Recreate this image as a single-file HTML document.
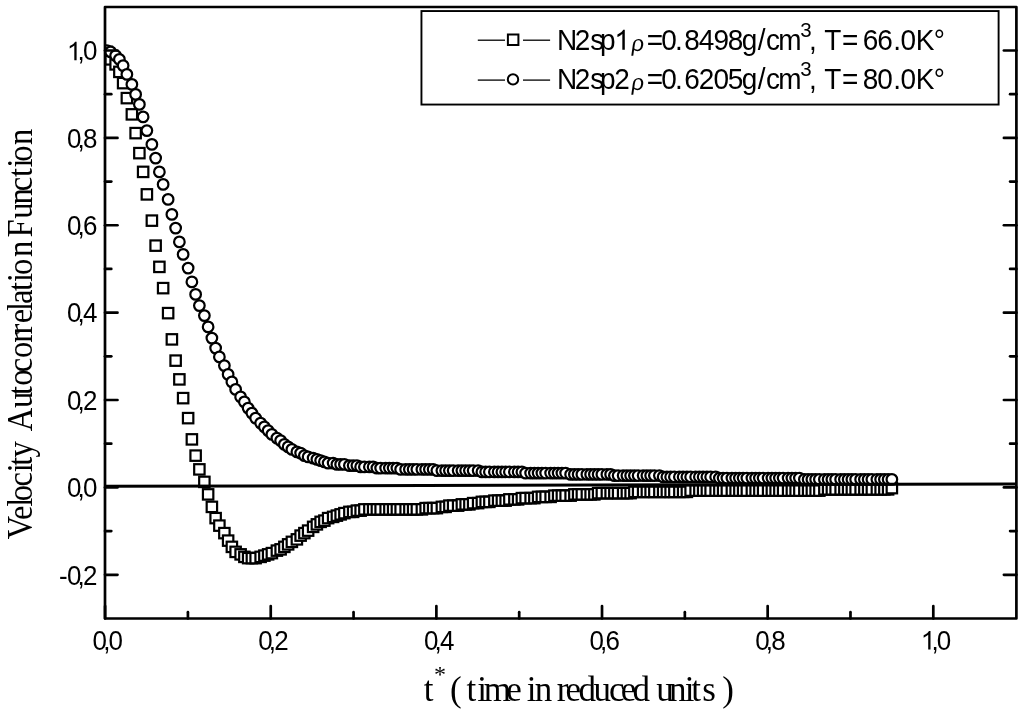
<!DOCTYPE html>
<html><head><meta charset="utf-8"><style>
html,body{margin:0;padding:0;background:#fff;width:1024px;height:714px;overflow:hidden}
svg{display:block}
svg{filter:grayscale(100%)}
</style></head><body>
<svg width="1024" height="714" viewBox="0 0 1024 714">
<rect x="0" y="0" width="1024" height="714" fill="#fff"/>
<defs><clipPath id="pc"><rect x="105.0" y="7.0" width="911.4" height="611.5"/></clipPath><path id="one" d="M0.373,0 L0.373,0.716 L0.315,0.716 C0.29,0.66 0.22,0.6 0.109,0.545 L0.109,0.455 C0.17,0.48 0.245,0.525 0.285,0.565 L0.285,0 Z"/></defs>
<g fill="#fff" stroke="#000" stroke-width="2.2" clip-path="url(#pc)">
<rect x="101.67" y="46.67" width="10.4" height="10.4"/>
<rect x="105.42" y="54.17" width="10.4" height="10.4"/>
<rect x="110.42" y="59.17" width="10.4" height="10.4"/>
<rect x="114.17" y="66.67" width="10.4" height="10.4"/>
<rect x="117.92" y="77.92" width="10.4" height="10.4"/>
<rect x="121.67" y="92.92" width="10.4" height="10.4"/>
<rect x="126.67" y="109.17" width="10.4" height="10.4"/>
<rect x="130.43" y="127.92" width="10.4" height="10.4"/>
<rect x="134.18" y="147.93" width="10.4" height="10.4"/>
<rect x="137.93" y="166.68" width="10.4" height="10.4"/>
<rect x="141.68" y="189.18" width="10.4" height="10.4"/>
<rect x="146.68" y="215.43" width="10.4" height="10.4"/>
<rect x="150.43" y="240.43" width="10.4" height="10.4"/>
<rect x="154.18" y="261.68" width="10.4" height="10.4"/>
<rect x="157.93" y="282.93" width="10.4" height="10.4"/>
<rect x="162.93" y="307.93" width="10.4" height="10.4"/>
<rect x="166.68" y="334.18" width="10.4" height="10.4"/>
<rect x="170.43" y="355.43" width="10.4" height="10.4"/>
<rect x="174.18" y="374.18" width="10.4" height="10.4"/>
<rect x="177.93" y="392.93" width="10.4" height="10.4"/>
<rect x="182.93" y="412.93" width="10.4" height="10.4"/>
<rect x="186.68" y="434.18" width="10.4" height="10.4"/>
<rect x="190.43" y="450.43" width="10.4" height="10.4"/>
<rect x="194.18" y="464.18" width="10.4" height="10.4"/>
<rect x="199.18" y="476.68" width="10.4" height="10.4"/>
<rect x="202.93" y="489.18" width="10.4" height="10.4"/>
<rect x="206.68" y="501.68" width="10.4" height="10.4"/>
<rect x="210.43" y="512.92" width="10.4" height="10.4"/>
<rect x="214.18" y="520.42" width="10.4" height="10.4"/>
<rect x="219.18" y="527.92" width="10.4" height="10.4"/>
<rect x="222.93" y="535.42" width="10.4" height="10.4"/>
<rect x="226.68" y="541.67" width="10.4" height="10.4"/>
<rect x="230.43" y="546.67" width="10.4" height="10.4"/>
<rect x="235.43" y="549.17" width="10.4" height="10.4"/>
<rect x="239.18" y="551.67" width="10.4" height="10.4"/>
<rect x="242.93" y="552.92" width="10.4" height="10.4"/>
<rect x="246.68" y="552.92" width="10.4" height="10.4"/>
<rect x="250.43" y="552.92" width="10.4" height="10.4"/>
<rect x="255.43" y="551.67" width="10.4" height="10.4"/>
<rect x="259.18" y="550.42" width="10.4" height="10.4"/>
<rect x="262.93" y="549.17" width="10.4" height="10.4"/>
<rect x="266.68" y="547.92" width="10.4" height="10.4"/>
<rect x="271.68" y="545.42" width="10.4" height="10.4"/>
<rect x="275.43" y="544.17" width="10.4" height="10.4"/>
<rect x="279.18" y="541.67" width="10.4" height="10.4"/>
<rect x="282.93" y="539.17" width="10.4" height="10.4"/>
<rect x="286.68" y="536.67" width="10.4" height="10.4"/>
<rect x="291.68" y="534.17" width="10.4" height="10.4"/>
<rect x="295.43" y="530.42" width="10.4" height="10.4"/>
<rect x="299.18" y="527.92" width="10.4" height="10.4"/>
<rect x="302.93" y="525.42" width="10.4" height="10.4"/>
<rect x="307.93" y="521.67" width="10.4" height="10.4"/>
<rect x="311.68" y="519.17" width="10.4" height="10.4"/>
<rect x="315.43" y="516.67" width="10.4" height="10.4"/>
<rect x="319.18" y="515.42" width="10.4" height="10.4"/>
<rect x="322.93" y="512.92" width="10.4" height="10.4"/>
<rect x="327.93" y="511.68" width="10.4" height="10.4"/>
<rect x="331.68" y="510.43" width="10.4" height="10.4"/>
<rect x="335.43" y="509.18" width="10.4" height="10.4"/>
<rect x="339.18" y="507.93" width="10.4" height="10.4"/>
<rect x="344.18" y="506.68" width="10.4" height="10.4"/>
<rect x="347.93" y="506.68" width="10.4" height="10.4"/>
<rect x="351.68" y="505.43" width="10.4" height="10.4"/>
<rect x="355.43" y="505.43" width="10.4" height="10.4"/>
<rect x="359.18" y="504.18" width="10.4" height="10.4"/>
<rect x="364.18" y="504.18" width="10.4" height="10.4"/>
<rect x="367.93" y="504.18" width="10.4" height="10.4"/>
<rect x="371.68" y="504.18" width="10.4" height="10.4"/>
<rect x="375.43" y="504.18" width="10.4" height="10.4"/>
<rect x="380.43" y="504.18" width="10.4" height="10.4"/>
<rect x="384.18" y="504.18" width="10.4" height="10.4"/>
<rect x="387.93" y="504.18" width="10.4" height="10.4"/>
<rect x="391.68" y="504.18" width="10.4" height="10.4"/>
<rect x="395.43" y="504.18" width="10.4" height="10.4"/>
<rect x="400.43" y="504.18" width="10.4" height="10.4"/>
<rect x="404.18" y="504.18" width="10.4" height="10.4"/>
<rect x="407.93" y="504.18" width="10.4" height="10.4"/>
<rect x="411.68" y="504.18" width="10.4" height="10.4"/>
<rect x="416.68" y="504.18" width="10.4" height="10.4"/>
<rect x="420.43" y="502.93" width="10.4" height="10.4"/>
<rect x="424.18" y="502.93" width="10.4" height="10.4"/>
<rect x="427.93" y="502.93" width="10.4" height="10.4"/>
<rect x="431.68" y="502.93" width="10.4" height="10.4"/>
<rect x="436.68" y="501.68" width="10.4" height="10.4"/>
<rect x="440.43" y="501.68" width="10.4" height="10.4"/>
<rect x="444.18" y="500.43" width="10.4" height="10.4"/>
<rect x="447.93" y="500.43" width="10.4" height="10.4"/>
<rect x="452.93" y="500.43" width="10.4" height="10.4"/>
<rect x="456.68" y="499.18" width="10.4" height="10.4"/>
<rect x="460.43" y="499.18" width="10.4" height="10.4"/>
<rect x="464.18" y="499.18" width="10.4" height="10.4"/>
<rect x="467.93" y="497.93" width="10.4" height="10.4"/>
<rect x="472.93" y="497.93" width="10.4" height="10.4"/>
<rect x="476.68" y="496.68" width="10.4" height="10.4"/>
<rect x="480.43" y="496.68" width="10.4" height="10.4"/>
<rect x="484.18" y="496.68" width="10.4" height="10.4"/>
<rect x="489.18" y="495.43" width="10.4" height="10.4"/>
<rect x="492.93" y="495.43" width="10.4" height="10.4"/>
<rect x="496.68" y="495.43" width="10.4" height="10.4"/>
<rect x="500.43" y="495.43" width="10.4" height="10.4"/>
<rect x="504.18" y="494.18" width="10.4" height="10.4"/>
<rect x="509.18" y="494.18" width="10.4" height="10.4"/>
<rect x="512.92" y="494.18" width="10.4" height="10.4"/>
<rect x="516.67" y="492.93" width="10.4" height="10.4"/>
<rect x="520.42" y="492.93" width="10.4" height="10.4"/>
<rect x="525.42" y="492.93" width="10.4" height="10.4"/>
<rect x="529.17" y="492.93" width="10.4" height="10.4"/>
<rect x="532.92" y="491.68" width="10.4" height="10.4"/>
<rect x="536.67" y="491.68" width="10.4" height="10.4"/>
<rect x="540.42" y="491.68" width="10.4" height="10.4"/>
<rect x="545.42" y="491.68" width="10.4" height="10.4"/>
<rect x="549.17" y="490.43" width="10.4" height="10.4"/>
<rect x="552.92" y="490.43" width="10.4" height="10.4"/>
<rect x="556.67" y="490.43" width="10.4" height="10.4"/>
<rect x="560.42" y="490.43" width="10.4" height="10.4"/>
<rect x="565.42" y="490.43" width="10.4" height="10.4"/>
<rect x="569.17" y="489.18" width="10.4" height="10.4"/>
<rect x="572.92" y="489.18" width="10.4" height="10.4"/>
<rect x="576.67" y="489.18" width="10.4" height="10.4"/>
<rect x="581.67" y="489.18" width="10.4" height="10.4"/>
<rect x="585.42" y="489.18" width="10.4" height="10.4"/>
<rect x="589.17" y="489.18" width="10.4" height="10.4"/>
<rect x="592.92" y="487.93" width="10.4" height="10.4"/>
<rect x="596.67" y="487.93" width="10.4" height="10.4"/>
<rect x="601.67" y="487.93" width="10.4" height="10.4"/>
<rect x="605.42" y="487.93" width="10.4" height="10.4"/>
<rect x="609.17" y="487.93" width="10.4" height="10.4"/>
<rect x="612.92" y="487.93" width="10.4" height="10.4"/>
<rect x="617.92" y="487.93" width="10.4" height="10.4"/>
<rect x="621.67" y="487.93" width="10.4" height="10.4"/>
<rect x="625.42" y="487.93" width="10.4" height="10.4"/>
<rect x="629.17" y="486.68" width="10.4" height="10.4"/>
<rect x="632.92" y="486.68" width="10.4" height="10.4"/>
<rect x="637.92" y="486.68" width="10.4" height="10.4"/>
<rect x="641.67" y="486.68" width="10.4" height="10.4"/>
<rect x="645.42" y="486.68" width="10.4" height="10.4"/>
<rect x="649.17" y="486.68" width="10.4" height="10.4"/>
<rect x="654.17" y="486.68" width="10.4" height="10.4"/>
<rect x="657.92" y="486.68" width="10.4" height="10.4"/>
<rect x="661.67" y="486.68" width="10.4" height="10.4"/>
<rect x="665.42" y="486.68" width="10.4" height="10.4"/>
<rect x="669.17" y="486.68" width="10.4" height="10.4"/>
<rect x="674.17" y="486.68" width="10.4" height="10.4"/>
<rect x="677.92" y="486.68" width="10.4" height="10.4"/>
<rect x="681.67" y="486.68" width="10.4" height="10.4"/>
<rect x="685.42" y="485.43" width="10.4" height="10.4"/>
<rect x="690.42" y="485.43" width="10.4" height="10.4"/>
<rect x="694.17" y="485.43" width="10.4" height="10.4"/>
<rect x="697.92" y="485.43" width="10.4" height="10.4"/>
<rect x="701.67" y="485.43" width="10.4" height="10.4"/>
<rect x="705.42" y="485.43" width="10.4" height="10.4"/>
<rect x="710.42" y="485.43" width="10.4" height="10.4"/>
<rect x="714.17" y="485.43" width="10.4" height="10.4"/>
<rect x="717.92" y="485.43" width="10.4" height="10.4"/>
<rect x="721.67" y="485.43" width="10.4" height="10.4"/>
<rect x="726.67" y="485.43" width="10.4" height="10.4"/>
<rect x="730.42" y="485.43" width="10.4" height="10.4"/>
<rect x="734.17" y="485.43" width="10.4" height="10.4"/>
<rect x="737.92" y="485.43" width="10.4" height="10.4"/>
<rect x="741.67" y="485.43" width="10.4" height="10.4"/>
<rect x="746.67" y="485.43" width="10.4" height="10.4"/>
<rect x="750.42" y="485.43" width="10.4" height="10.4"/>
<rect x="754.17" y="485.43" width="10.4" height="10.4"/>
<rect x="757.92" y="485.43" width="10.4" height="10.4"/>
<rect x="762.92" y="485.43" width="10.4" height="10.4"/>
<rect x="766.67" y="485.43" width="10.4" height="10.4"/>
<rect x="770.42" y="485.43" width="10.4" height="10.4"/>
<rect x="774.17" y="485.43" width="10.4" height="10.4"/>
<rect x="777.92" y="485.43" width="10.4" height="10.4"/>
<rect x="782.92" y="485.43" width="10.4" height="10.4"/>
<rect x="786.67" y="485.43" width="10.4" height="10.4"/>
<rect x="790.42" y="485.43" width="10.4" height="10.4"/>
<rect x="794.17" y="485.43" width="10.4" height="10.4"/>
<rect x="799.17" y="485.43" width="10.4" height="10.4"/>
<rect x="802.92" y="485.43" width="10.4" height="10.4"/>
<rect x="806.67" y="485.43" width="10.4" height="10.4"/>
<rect x="810.42" y="485.43" width="10.4" height="10.4"/>
<rect x="814.17" y="485.43" width="10.4" height="10.4"/>
<rect x="819.17" y="484.18" width="10.4" height="10.4"/>
<rect x="822.92" y="484.18" width="10.4" height="10.4"/>
<rect x="826.67" y="484.18" width="10.4" height="10.4"/>
<rect x="830.42" y="484.18" width="10.4" height="10.4"/>
<rect x="835.42" y="484.18" width="10.4" height="10.4"/>
<rect x="839.17" y="484.18" width="10.4" height="10.4"/>
<rect x="842.92" y="484.18" width="10.4" height="10.4"/>
<rect x="846.67" y="484.18" width="10.4" height="10.4"/>
<rect x="850.42" y="484.18" width="10.4" height="10.4"/>
<rect x="855.42" y="484.18" width="10.4" height="10.4"/>
<rect x="859.17" y="484.18" width="10.4" height="10.4"/>
<rect x="862.92" y="484.18" width="10.4" height="10.4"/>
<rect x="866.67" y="484.18" width="10.4" height="10.4"/>
<rect x="871.67" y="484.18" width="10.4" height="10.4"/>
<rect x="875.42" y="484.18" width="10.4" height="10.4"/>
<rect x="879.17" y="484.18" width="10.4" height="10.4"/>
<rect x="882.92" y="484.18" width="10.4" height="10.4"/>
<rect x="886.67" y="482.93" width="10.4" height="10.4"/>
</g>
<g fill="#fff" stroke="#000" stroke-width="2.2" clip-path="url(#pc)">
<circle cx="106.88" cy="50.62" r="5.3"/>
<circle cx="110.62" cy="51.88" r="5.3"/>
<circle cx="115.62" cy="55.62" r="5.3"/>
<circle cx="119.38" cy="59.38" r="5.3"/>
<circle cx="123.12" cy="65.62" r="5.3"/>
<circle cx="126.88" cy="74.38" r="5.3"/>
<circle cx="131.88" cy="84.38" r="5.3"/>
<circle cx="135.62" cy="94.38" r="5.3"/>
<circle cx="139.38" cy="104.38" r="5.3"/>
<circle cx="143.12" cy="116.88" r="5.3"/>
<circle cx="146.88" cy="130.62" r="5.3"/>
<circle cx="151.88" cy="144.38" r="5.3"/>
<circle cx="155.62" cy="158.12" r="5.3"/>
<circle cx="159.38" cy="171.88" r="5.3"/>
<circle cx="163.12" cy="184.38" r="5.3"/>
<circle cx="168.12" cy="199.38" r="5.3"/>
<circle cx="171.88" cy="214.38" r="5.3"/>
<circle cx="175.62" cy="228.12" r="5.3"/>
<circle cx="179.38" cy="241.88" r="5.3"/>
<circle cx="183.12" cy="254.38" r="5.3"/>
<circle cx="188.12" cy="268.12" r="5.3"/>
<circle cx="191.88" cy="281.88" r="5.3"/>
<circle cx="195.62" cy="294.38" r="5.3"/>
<circle cx="199.38" cy="305.62" r="5.3"/>
<circle cx="204.38" cy="315.62" r="5.3"/>
<circle cx="208.12" cy="326.88" r="5.3"/>
<circle cx="211.88" cy="338.12" r="5.3"/>
<circle cx="215.62" cy="348.12" r="5.3"/>
<circle cx="219.38" cy="356.88" r="5.3"/>
<circle cx="224.38" cy="365.62" r="5.3"/>
<circle cx="228.12" cy="374.38" r="5.3"/>
<circle cx="231.88" cy="381.88" r="5.3"/>
<circle cx="235.62" cy="389.38" r="5.3"/>
<circle cx="240.62" cy="396.88" r="5.3"/>
<circle cx="244.38" cy="401.88" r="5.3"/>
<circle cx="248.12" cy="408.12" r="5.3"/>
<circle cx="251.88" cy="413.12" r="5.3"/>
<circle cx="255.62" cy="418.12" r="5.3"/>
<circle cx="260.62" cy="423.12" r="5.3"/>
<circle cx="264.38" cy="426.88" r="5.3"/>
<circle cx="268.12" cy="430.62" r="5.3"/>
<circle cx="271.88" cy="434.38" r="5.3"/>
<circle cx="276.88" cy="438.12" r="5.3"/>
<circle cx="280.62" cy="440.62" r="5.3"/>
<circle cx="284.38" cy="444.38" r="5.3"/>
<circle cx="288.12" cy="446.88" r="5.3"/>
<circle cx="291.88" cy="449.38" r="5.3"/>
<circle cx="296.88" cy="451.88" r="5.3"/>
<circle cx="300.62" cy="453.12" r="5.3"/>
<circle cx="304.38" cy="455.62" r="5.3"/>
<circle cx="308.12" cy="456.88" r="5.3"/>
<circle cx="313.12" cy="458.12" r="5.3"/>
<circle cx="316.88" cy="459.38" r="5.3"/>
<circle cx="320.62" cy="460.62" r="5.3"/>
<circle cx="324.38" cy="461.88" r="5.3"/>
<circle cx="328.12" cy="463.12" r="5.3"/>
<circle cx="333.12" cy="463.12" r="5.3"/>
<circle cx="336.88" cy="464.38" r="5.3"/>
<circle cx="340.62" cy="464.38" r="5.3"/>
<circle cx="344.38" cy="464.38" r="5.3"/>
<circle cx="349.38" cy="465.62" r="5.3"/>
<circle cx="353.12" cy="465.62" r="5.3"/>
<circle cx="356.88" cy="465.62" r="5.3"/>
<circle cx="360.62" cy="466.88" r="5.3"/>
<circle cx="364.38" cy="466.88" r="5.3"/>
<circle cx="369.38" cy="466.88" r="5.3"/>
<circle cx="373.12" cy="466.88" r="5.3"/>
<circle cx="376.88" cy="468.12" r="5.3"/>
<circle cx="380.62" cy="468.12" r="5.3"/>
<circle cx="385.62" cy="468.12" r="5.3"/>
<circle cx="389.38" cy="468.12" r="5.3"/>
<circle cx="393.12" cy="468.12" r="5.3"/>
<circle cx="396.88" cy="468.12" r="5.3"/>
<circle cx="400.62" cy="469.38" r="5.3"/>
<circle cx="405.62" cy="469.38" r="5.3"/>
<circle cx="409.38" cy="469.38" r="5.3"/>
<circle cx="413.12" cy="469.38" r="5.3"/>
<circle cx="416.88" cy="469.38" r="5.3"/>
<circle cx="421.88" cy="469.38" r="5.3"/>
<circle cx="425.62" cy="469.38" r="5.3"/>
<circle cx="429.38" cy="469.38" r="5.3"/>
<circle cx="433.12" cy="469.38" r="5.3"/>
<circle cx="436.88" cy="470.62" r="5.3"/>
<circle cx="441.88" cy="470.62" r="5.3"/>
<circle cx="445.62" cy="470.62" r="5.3"/>
<circle cx="449.38" cy="470.62" r="5.3"/>
<circle cx="453.12" cy="470.62" r="5.3"/>
<circle cx="458.12" cy="470.62" r="5.3"/>
<circle cx="461.88" cy="470.62" r="5.3"/>
<circle cx="465.62" cy="470.62" r="5.3"/>
<circle cx="469.38" cy="470.62" r="5.3"/>
<circle cx="473.12" cy="470.62" r="5.3"/>
<circle cx="478.12" cy="470.62" r="5.3"/>
<circle cx="481.88" cy="471.88" r="5.3"/>
<circle cx="485.62" cy="471.88" r="5.3"/>
<circle cx="489.38" cy="471.88" r="5.3"/>
<circle cx="494.38" cy="471.88" r="5.3"/>
<circle cx="498.12" cy="471.88" r="5.3"/>
<circle cx="501.88" cy="471.88" r="5.3"/>
<circle cx="505.62" cy="471.88" r="5.3"/>
<circle cx="509.38" cy="471.88" r="5.3"/>
<circle cx="514.38" cy="471.88" r="5.3"/>
<circle cx="518.12" cy="471.88" r="5.3"/>
<circle cx="521.88" cy="471.88" r="5.3"/>
<circle cx="525.62" cy="473.12" r="5.3"/>
<circle cx="530.62" cy="473.12" r="5.3"/>
<circle cx="534.38" cy="473.12" r="5.3"/>
<circle cx="538.12" cy="473.12" r="5.3"/>
<circle cx="541.88" cy="473.12" r="5.3"/>
<circle cx="545.62" cy="473.12" r="5.3"/>
<circle cx="550.62" cy="473.12" r="5.3"/>
<circle cx="554.38" cy="473.12" r="5.3"/>
<circle cx="558.12" cy="473.12" r="5.3"/>
<circle cx="561.88" cy="473.12" r="5.3"/>
<circle cx="565.62" cy="473.12" r="5.3"/>
<circle cx="570.62" cy="474.38" r="5.3"/>
<circle cx="574.38" cy="474.38" r="5.3"/>
<circle cx="578.12" cy="474.38" r="5.3"/>
<circle cx="581.88" cy="474.38" r="5.3"/>
<circle cx="586.88" cy="474.38" r="5.3"/>
<circle cx="590.62" cy="474.38" r="5.3"/>
<circle cx="594.38" cy="474.38" r="5.3"/>
<circle cx="598.12" cy="474.38" r="5.3"/>
<circle cx="601.88" cy="474.38" r="5.3"/>
<circle cx="606.88" cy="474.38" r="5.3"/>
<circle cx="610.62" cy="474.38" r="5.3"/>
<circle cx="614.38" cy="475.62" r="5.3"/>
<circle cx="618.12" cy="475.62" r="5.3"/>
<circle cx="623.12" cy="475.62" r="5.3"/>
<circle cx="626.88" cy="475.62" r="5.3"/>
<circle cx="630.62" cy="475.62" r="5.3"/>
<circle cx="634.38" cy="475.62" r="5.3"/>
<circle cx="638.12" cy="475.62" r="5.3"/>
<circle cx="643.12" cy="475.62" r="5.3"/>
<circle cx="646.88" cy="475.62" r="5.3"/>
<circle cx="650.62" cy="475.62" r="5.3"/>
<circle cx="654.38" cy="475.62" r="5.3"/>
<circle cx="659.38" cy="475.62" r="5.3"/>
<circle cx="663.12" cy="476.88" r="5.3"/>
<circle cx="666.88" cy="476.88" r="5.3"/>
<circle cx="670.62" cy="476.88" r="5.3"/>
<circle cx="674.38" cy="476.88" r="5.3"/>
<circle cx="679.38" cy="476.88" r="5.3"/>
<circle cx="683.12" cy="476.88" r="5.3"/>
<circle cx="686.88" cy="476.88" r="5.3"/>
<circle cx="690.62" cy="476.88" r="5.3"/>
<circle cx="695.62" cy="476.88" r="5.3"/>
<circle cx="699.38" cy="476.88" r="5.3"/>
<circle cx="703.12" cy="476.88" r="5.3"/>
<circle cx="706.88" cy="476.88" r="5.3"/>
<circle cx="710.62" cy="476.88" r="5.3"/>
<circle cx="715.62" cy="476.88" r="5.3"/>
<circle cx="719.38" cy="478.12" r="5.3"/>
<circle cx="723.12" cy="478.12" r="5.3"/>
<circle cx="726.88" cy="478.12" r="5.3"/>
<circle cx="731.88" cy="478.12" r="5.3"/>
<circle cx="735.62" cy="478.12" r="5.3"/>
<circle cx="739.38" cy="478.12" r="5.3"/>
<circle cx="743.12" cy="478.12" r="5.3"/>
<circle cx="746.88" cy="478.12" r="5.3"/>
<circle cx="751.88" cy="478.12" r="5.3"/>
<circle cx="755.62" cy="478.12" r="5.3"/>
<circle cx="759.38" cy="478.12" r="5.3"/>
<circle cx="763.12" cy="478.12" r="5.3"/>
<circle cx="768.12" cy="478.12" r="5.3"/>
<circle cx="771.88" cy="478.12" r="5.3"/>
<circle cx="775.62" cy="478.12" r="5.3"/>
<circle cx="779.38" cy="478.12" r="5.3"/>
<circle cx="783.12" cy="478.12" r="5.3"/>
<circle cx="788.12" cy="478.12" r="5.3"/>
<circle cx="791.88" cy="478.12" r="5.3"/>
<circle cx="795.62" cy="478.12" r="5.3"/>
<circle cx="799.38" cy="478.12" r="5.3"/>
<circle cx="804.38" cy="479.38" r="5.3"/>
<circle cx="808.12" cy="479.38" r="5.3"/>
<circle cx="811.88" cy="479.38" r="5.3"/>
<circle cx="815.62" cy="479.38" r="5.3"/>
<circle cx="819.38" cy="479.38" r="5.3"/>
<circle cx="824.38" cy="479.38" r="5.3"/>
<circle cx="828.12" cy="479.38" r="5.3"/>
<circle cx="831.88" cy="479.38" r="5.3"/>
<circle cx="835.62" cy="479.38" r="5.3"/>
<circle cx="840.62" cy="479.38" r="5.3"/>
<circle cx="844.38" cy="479.38" r="5.3"/>
<circle cx="848.12" cy="479.38" r="5.3"/>
<circle cx="851.88" cy="479.38" r="5.3"/>
<circle cx="855.62" cy="479.38" r="5.3"/>
<circle cx="860.62" cy="479.38" r="5.3"/>
<circle cx="864.38" cy="479.38" r="5.3"/>
<circle cx="868.12" cy="479.38" r="5.3"/>
<circle cx="871.88" cy="479.38" r="5.3"/>
<circle cx="876.88" cy="479.38" r="5.3"/>
<circle cx="880.62" cy="479.38" r="5.3"/>
<circle cx="884.38" cy="479.38" r="5.3"/>
<circle cx="888.12" cy="479.38" r="5.3"/>
<circle cx="891.88" cy="479.38" r="5.3"/>
</g>
<line x1="105" y1="486.3" x2="1016" y2="483.9" stroke="#000" stroke-width="3"/>
<g stroke="#000" stroke-width="2.7" stroke-linecap="round">
<line x1="105.0" y1="574.78" x2="117.5" y2="574.78"/>
<line x1="1016.4" y1="574.78" x2="1003.9" y2="574.78"/>
<line x1="105.0" y1="531.09" x2="111.3" y2="531.09"/>
<line x1="1016.4" y1="531.09" x2="1010.1" y2="531.09"/>
<line x1="105.0" y1="487.40" x2="117.5" y2="487.40"/>
<line x1="1016.4" y1="487.40" x2="1003.9" y2="487.40"/>
<line x1="105.0" y1="443.71" x2="111.3" y2="443.71"/>
<line x1="1016.4" y1="443.71" x2="1010.1" y2="443.71"/>
<line x1="105.0" y1="400.02" x2="117.5" y2="400.02"/>
<line x1="1016.4" y1="400.02" x2="1003.9" y2="400.02"/>
<line x1="105.0" y1="356.33" x2="111.3" y2="356.33"/>
<line x1="1016.4" y1="356.33" x2="1010.1" y2="356.33"/>
<line x1="105.0" y1="312.64" x2="117.5" y2="312.64"/>
<line x1="1016.4" y1="312.64" x2="1003.9" y2="312.64"/>
<line x1="105.0" y1="268.95" x2="111.3" y2="268.95"/>
<line x1="1016.4" y1="268.95" x2="1010.1" y2="268.95"/>
<line x1="105.0" y1="225.26" x2="117.5" y2="225.26"/>
<line x1="1016.4" y1="225.26" x2="1003.9" y2="225.26"/>
<line x1="105.0" y1="181.57" x2="111.3" y2="181.57"/>
<line x1="1016.4" y1="181.57" x2="1010.1" y2="181.57"/>
<line x1="105.0" y1="137.88" x2="117.5" y2="137.88"/>
<line x1="1016.4" y1="137.88" x2="1003.9" y2="137.88"/>
<line x1="105.0" y1="94.19" x2="111.3" y2="94.19"/>
<line x1="1016.4" y1="94.19" x2="1010.1" y2="94.19"/>
<line x1="105.0" y1="50.50" x2="117.5" y2="50.50"/>
<line x1="1016.4" y1="50.50" x2="1003.9" y2="50.50"/>
<line x1="105.10" y1="618.5" x2="105.10" y2="606.0"/>
<line x1="187.92" y1="618.5" x2="187.92" y2="612.2"/>
<line x1="270.74" y1="618.5" x2="270.74" y2="606.0"/>
<line x1="353.56" y1="618.5" x2="353.56" y2="612.2"/>
<line x1="436.38" y1="618.5" x2="436.38" y2="606.0"/>
<line x1="519.20" y1="618.5" x2="519.20" y2="612.2"/>
<line x1="602.02" y1="618.5" x2="602.02" y2="606.0"/>
<line x1="684.84" y1="618.5" x2="684.84" y2="612.2"/>
<line x1="767.66" y1="618.5" x2="767.66" y2="606.0"/>
<line x1="850.48" y1="618.5" x2="850.48" y2="612.2"/>
<line x1="933.30" y1="618.5" x2="933.30" y2="606.0"/>
</g>
<rect x="105.0" y="7.0" width="911.4" height="611.5" fill="none" stroke="#000" stroke-width="2.7" stroke-linejoin="round"/>
<g fill="#000">
<g transform="translate(0,584.53) scale(1,1.035)">
<text x="58.95 66.90 77.50 82.90" y="0" font-family="Liberation Sans" font-size="26" >-0,2</text>
</g>
<g transform="translate(0,497.15) scale(1,1.035)">
<text x="66.90 77.50 82.90" y="0" font-family="Liberation Sans" font-size="26" >0,0</text>
</g>
<g transform="translate(0,409.77) scale(1,1.035)">
<text x="66.90 77.50 82.90" y="0" font-family="Liberation Sans" font-size="26" >0,2</text>
</g>
<g transform="translate(0,322.39) scale(1,1.035)">
<text x="66.90 77.50 82.90" y="0" font-family="Liberation Sans" font-size="26" >0,4</text>
</g>
<g transform="translate(0,235.01) scale(1,1.035)">
<text x="66.90 77.50 82.90" y="0" font-family="Liberation Sans" font-size="26" >0,6</text>
</g>
<g transform="translate(0,147.63) scale(1,1.035)">
<text x="66.90 77.50 82.90" y="0" font-family="Liberation Sans" font-size="26" >0,8</text>
</g>
<g transform="translate(0,60.25) scale(1,1.035)">
<use href="#one" transform="translate(66.90,0) scale(26,-25.1208)"/>
<text x="77.50 82.90" y="0" font-family="Liberation Sans" font-size="26" >,0</text>
</g>
<g transform="translate(0,649.50) scale(1,1.035)">
<text x="92.60 103.20 108.60" y="0" font-family="Liberation Sans" font-size="26" >0,0</text>
</g>
<g transform="translate(0,649.50) scale(1,1.035)">
<text x="258.24 268.84 274.24" y="0" font-family="Liberation Sans" font-size="26" >0,2</text>
</g>
<g transform="translate(0,649.50) scale(1,1.035)">
<text x="423.88 434.48 439.88" y="0" font-family="Liberation Sans" font-size="26" >0,4</text>
</g>
<g transform="translate(0,649.50) scale(1,1.035)">
<text x="589.52 600.12 605.52" y="0" font-family="Liberation Sans" font-size="26" >0,6</text>
</g>
<g transform="translate(0,649.50) scale(1,1.035)">
<text x="755.16 765.76 771.16" y="0" font-family="Liberation Sans" font-size="26" >0,8</text>
</g>
<g transform="translate(0,649.50) scale(1,1.035)">
<use href="#one" transform="translate(920.80,0) scale(26,-25.1208)"/>
<text x="931.40 936.80" y="0" font-family="Liberation Sans" font-size="26" >,0</text>
</g>
</g>
<rect x="421.45" y="11.05" width="577.15" height="93.5" fill="#fff" stroke="#000" stroke-width="1.9"/>
<line x1="477.8" y1="40.2" x2="505" y2="40.2" stroke="#000" stroke-width="1.3"/>
<line x1="523" y1="40.2" x2="550.1" y2="40.2" stroke="#000" stroke-width="1.3"/>
<rect x="507.9" y="34.5" width="10.5" height="10.5" fill="#fff" stroke="#000" stroke-width="2"/>
<line x1="477.8" y1="80.1" x2="505" y2="80.1" stroke="#000" stroke-width="1.3"/>
<line x1="523" y1="80.1" x2="550.1" y2="80.1" stroke="#000" stroke-width="1.3"/>
<circle cx="513" cy="79.4" r="5.2" fill="#fff" stroke="#000" stroke-width="2"/>
<g transform="translate(0,49.70) scale(1,1.035)">
<use href="#one" transform="translate(614.35,0) scale(28,-27.0531)"/>
<text x="556.90 574.69 590.22 600.10 646.73 661.31 675.04 684.28 698.86 713.59 727.78 741.72 757.80 766.01 778.34 808.88 824.37 842.13 862.68 877.38 893.24 900.41 915.70 933.73" y="0" font-family="Liberation Sans" font-size="28" >N2sp=0.8498g/cm,T=66.0K°</text>
</g>
<text transform="translate(630.6,50.50) skewX(-8)" font-family="Liberation Sans" font-size="22.5">ρ</text>
<text x="800.2" y="37.00" font-family="Liberation Sans" font-size="20.5">3</text>
<g transform="translate(0,89.10) scale(1,1.035)">
<text x="556.90 574.69 590.22 600.10 614.35 646.73 661.31 675.04 684.28 698.86 713.59 727.78 741.72 757.80 766.01 778.34 808.88 824.37 842.13 862.68 877.38 893.24 900.41 915.70 933.73" y="0" font-family="Liberation Sans" font-size="28" >N2sp2=0.6205g/cm,T=80.0K°</text>
</g>
<text transform="translate(630.6,89.90) skewX(-8)" font-family="Liberation Sans" font-size="22.5">ρ</text>
<text x="800.2" y="76.40" font-family="Liberation Sans" font-size="20.5">3</text>
<text x="423.86 449.96 466.46 477.17 483.77 506.13 526.67 534.80 556.80 565.53 578.54 593.44 608.97 620.63 632.49 656.14 669.00 684.77 691.36 702.36 722.27" y="700.5" font-family="Liberation Serif" font-size="35">t(timeinreducedunits)</text>
<text x="433.93" y="682.4" font-family="Liberation Serif" font-size="24">*</text>
<text transform="translate(31.6,540.0) rotate(-90) scale(0.93,1)" x="0.90 21.43 35.64 41.79 57.59 72.81 79.87 88.82 116.86 142.01 156.00 165.76 180.39 195.66 212.10 221.02 233.04 246.29 253.82 267.62 277.44 285.01 304.36 325.23 345.45 360.81 375.12 390.30 400.66 406.84 424.79" y="0" font-family="Liberation Serif" font-size="35">VelocityAutocorrelationFunction</text>
</svg>
</body></html>
